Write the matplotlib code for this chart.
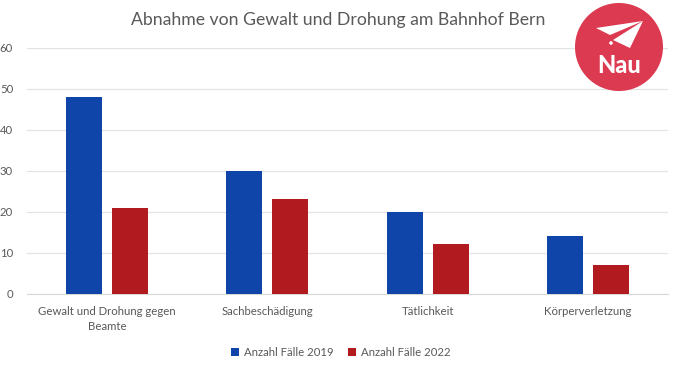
import matplotlib
matplotlib.use('Agg')
import matplotlib.pyplot as plt
from matplotlib.patches import Circle, Polygon
import numpy as np

categories = ['Gewalt und Drohung gegen\nBeamte', 'Sachbeschädigung', 'Tätlichkeit', 'Körperverletzung']
faelle_2019 = [48, 30, 20, 14]
faelle_2022 = [21, 23, 12, 7]
y_ticks = [0, 10, 20, 30, 40, 50, 60]

plt.rcParams['font.family'] = ['Lato', 'DejaVu Sans']
W, H = 680, 371
fig = plt.figure(figsize=(W / 100, H / 100), dpi=100)
ax = fig.add_axes([27 / W, 1 - 293.5 / H, 641 / W, 245.5 / H])

x = np.arange(len(categories))
ax.bar(x - 0.1435, faelle_2019, 0.225, color='#0f45a8', label='Anzahl Fälle 2019', zorder=3)
ax.bar(x + 0.1435, faelle_2022, 0.225, color='#b11a1e', label='Anzahl Fälle 2022', zorder=3)

ax.set_xlim(-0.5, 3.5)
ax.set_ylim(0, 60)
ax.set_yticks(y_ticks)
ax.set_xticks(x)
ax.set_xticklabels(categories, fontsize=8.2, color='#595959', linespacing=1.45)
ax.tick_params(axis='both', length=0, colors='#595959', labelsize=8.2)
ax.tick_params(axis='x', pad=9)
ax.tick_params(axis='y', pad=10)
ax.grid(axis='y', color='#e3e3e3', linewidth=0.9, zorder=0)
for s in ['top', 'right', 'left']:
    ax.spines[s].set_visible(False)
ax.spines['bottom'].set_color('#d9d9d9')

fig.text(338.5 / W, 1 - 20 / H, 'Abnahme von Gewalt und Drohung am Bahnhof Bern',
         fontsize=12.7, color='#595959', ha='center', va='center')

fig.legend(loc='center', bbox_to_anchor=(341 / W, 1 - 352 / H), ncol=2, frameon=False,
           fontsize=8.2, labelcolor='#595959', handlelength=0.7, handleheight=0.7,
           handletextpad=0.4, columnspacing=1.3)

# Nau logo in pixel coordinates
logo = fig.add_axes([0, 0, 1, 1], facecolor='none')
logo.set_xlim(0, W)
logo.set_ylim(H, 0)
logo.axis('off')
logo.add_patch(Circle((619, 47), 44, color='#dc3a50', lw=0))
logo.add_patch(Polygon([(596, 28), (643, 21), (610, 35)], color='white', lw=0))
logo.add_patch(Polygon([(643, 21), (613, 40), (630, 48)], color='white', lw=0))
logo.add_patch(Circle((611, 43), 1.8, color='white', lw=0))
logo.text(619.5, 65.5, 'Nau', fontsize=17, fontweight='black', color='white', ha='center', va='center')

fig.savefig('out.png', dpi=100)
